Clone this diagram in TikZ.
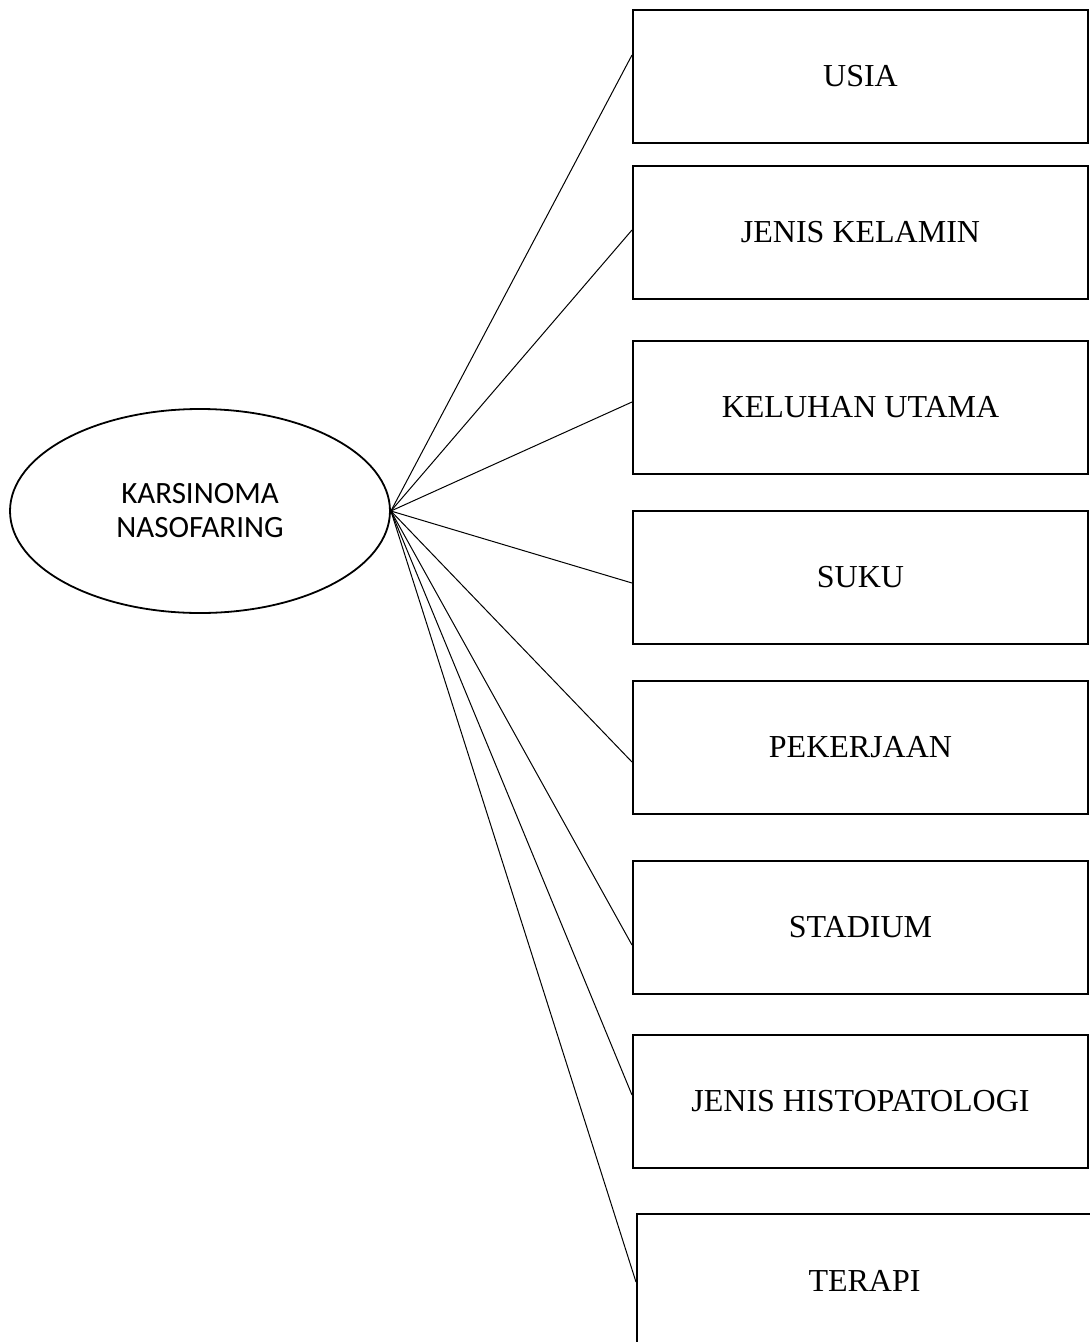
\documentclass[tikz,border=0pt]{standalone}
\usepackage{fontspec}
\setmainfont{Liberation Serif}
\newfontfamily\calibri{Carlito}
\usetikzlibrary{shapes.geometric}
\begin{document}
\begin{tikzpicture}[x=1pt, y=-1pt,
        kotak/.style={draw, line width=2pt, minimum width=455pt, minimum height=133pt,
            inner sep=0pt, anchor=west, font=\fontsize{32}{38}\selectfont},
        lonjong/.style={draw, ellipse, line width=1.8pt, minimum width=380pt, minimum height=204pt,
            inner sep=0pt, align=center, font=\calibri\fontsize{31}{34}\selectfont},
        garis/.style={line width=1pt}]
        \useasboundingbox (0,0) rectangle (1090,1342);

        \node[lonjong] (kns) at (200,511) {KARSINOMA\\NASOFARING};

        \foreach \nama/\yy/\teks in {usia/76/USIA, kelamin/232.5/JENIS KELAMIN,
            keluhan/407/KELUHAN UTAMA, suku/577.5/SUKU, pekerjaan/747/PEKERJAAN,
            stadium/927/STADIUM, histo/1101.5/JENIS HISTOPATOLOGI} {
            \node[kotak] (\nama) at (632,\yy) {\teks};
        }
        \node[kotak] (terapi) at (636,1280.5) {TERAPI};

        \foreach \nama/\dy in {usia/21, kelamin/2.5, keluhan/5, suku/-5.5,
            pekerjaan/-15, stadium/-18, histo/6.5, terapi/-1.5} {
            \draw[garis] (kns.east) -- ([yshift=\dy pt]\nama.west);
        }
    \end{tikzpicture}
\end{document}
